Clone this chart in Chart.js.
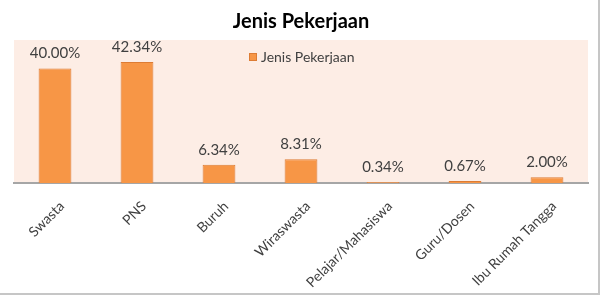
<!DOCTYPE html>
<html>
<head>
<meta charset="utf-8">
<script src="https://cdn.jsdelivr.net/npm/chart.js@4"></script>
<style>
  html, body { margin: 0; padding: 0; background: #fff; }
  .wrap {
    width: 598px; height: 293px;
    border-right: 2px solid #c6c6c6;
    border-bottom: 2px solid #c6c6c6;
  }
</style>
</head>
<body>
<div class="wrap"><canvas id="chart"></canvas></div>
<script>
const categories = ['Swasta', 'PNS', 'Buruh', 'Wiraswasta', 'Pelajar/Mahasiswa', 'Guru/Dosen', 'Ibu Rumah Tangga'];
const values = [40.00, 42.34, 6.34, 8.31, 0.34, 0.67, 2.00];
const seriesName = 'Jenis Pekerjaan';
const chartTitle = 'Jenis Pekerjaan';

const FONT = 'Lato, "Open Sans", sans-serif';

// peach background behind the plot area
const plotBg = {
    id: 'plotBg',
    beforeDraw(chart) {
        const { ctx, chartArea: a } = chart;
        ctx.save();
        ctx.fillStyle = '#fdede5';
        ctx.fillRect(a.left, a.top, a.right - a.left, a.bottom - a.top);
        ctx.restore();
    }
};

// value labels above bars
const valueLabels = {
    id: 'valueLabels',
    afterDatasetsDraw(chart) {
        const { ctx } = chart;
        const meta = chart.getDatasetMeta(0);
        ctx.save();
        ctx.font = '15px ' + FONT;
        ctx.fillStyle = '#404040';
        ctx.textAlign = 'center';
        ctx.textBaseline = 'middle';
        meta.data.forEach((bar, i) => {
            ctx.fillText(values[i].toFixed(2) + '%', bar.x, bar.y - 15);
        });
        ctx.restore();
    }
};

// legend drawn inside the plot area
const insideLegend = {
    id: 'insideLegend',
    afterDraw(chart) {
        const { ctx, chartArea: a } = chart;
        const ds = chart.data.datasets[0];
        ctx.save();
        ctx.font = '14px ' + FONT;
        const x = 249;
        const y = a.top + 17;
        ctx.fillStyle = ds.backgroundColor;
        ctx.fillRect(x, y - 4, 8, 8);
        ctx.strokeStyle = ds.borderColor;
        ctx.lineWidth = 1;
        ctx.strokeRect(x + 0.5, y - 3.5, 7, 7);
        ctx.fillStyle = '#404040';
        ctx.textBaseline = 'middle';
        ctx.fillText(ds.label, x + 12, y);
        ctx.restore();
    }
};

new Chart(document.getElementById('chart'), {
    type: 'bar',
    data: {
        labels: categories,
        datasets: [{
            label: seriesName,
            data: values,
            backgroundColor: '#f79646',
            borderColor: '#dd7c34',
            borderWidth: 1,
            categoryPercentage: 1,
            barPercentage: 0.4
        }]
    },
    options: {
        responsive: true,
        maintainAspectRatio: false,
        animation: false,
        layout: { padding: { left: 14, right: 10, top: 0, bottom: 0 } },
        plugins: {
            legend: { display: false },
            tooltip: { enabled: false },
            title: {
                display: true,
                text: chartTitle,
                color: '#000',
                font: { family: FONT, size: 20, weight: 'bold' },
                padding: { top: 10, bottom: 6 }
            }
        },
        scales: {
            x: {
                grid: { display: false, drawTicks: false },
                border: { display: true, color: '#a6a6a6', width: 2 },
                ticks: {
                    color: '#404040',
                    font: { family: FONT, size: 14 },
                    minRotation: 45,
                    maxRotation: 45,
                    padding: 15,
                    labelOffset: 7
                },
                afterFit(scale) { scale.height = 110; }
            },
            y: {
                display: false,
                min: 0,
                max: 50
            }
        }
    },
    plugins: [plotBg, valueLabels, insideLegend]
});
</script>
</body>
</html>
